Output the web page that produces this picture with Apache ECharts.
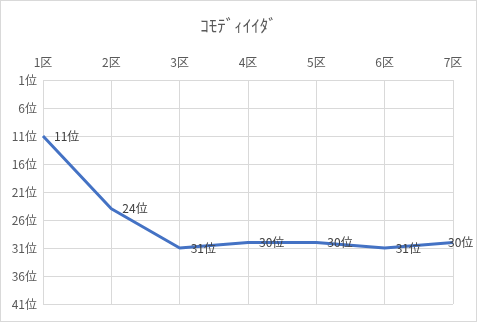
<!DOCTYPE html>
<html><head><meta charset="utf-8">
<script src="https://cdn.jsdelivr.net/npm/echarts@6/dist/echarts.min.js"></script>
<style>html,body{margin:0;padding:0;background:#fff}#c{width:477px;height:322px;box-sizing:border-box;border:1px solid #d9d9d9}</style>
</head><body><div id="c"></div>
<script>
var titleText = 'ｺﾓﾃﾞｨｲｲﾀﾞ';
var categories = ['1区','2区','3区','4区','5区','6区','7区'];
var ranks = [11, 24, 31, 30, 30, 31, 30];
var rankMin = 1, rankMax = 41, rankStep = 5;
var chart = echarts.init(document.getElementById('c'));
var font = '"Noto Sans CJK JP", "Noto Sans", sans-serif';
var seriesData = ranks.map(function(v, i){
  if (i === ranks.length - 1) return {value: v, label: {offset: [-16, 0]}};
  return v;
});
chart.setOption({
  animation: false,
  title: {text: titleText, left: 'center', top: 11, textStyle: {fontFamily: font, fontSize: 17, fontWeight: 'normal', color: '#595959'}},
  grid: {left: 42, right: 23, top: 79, bottom: 17},
  xAxis: {type: 'category', data: categories, position: 'top', boundaryGap: false,
    axisLine: {show: false}, axisTick: {show: false},
    axisLabel: {color: '#595959', fontSize: 12, fontFamily: font, margin: 12},
    splitLine: {show: true, lineStyle: {color: '#d9d9d9', width: 1}}},
  yAxis: {type: 'value', inverse: true, min: rankMin, max: rankMax, interval: rankStep,
    axisLine: {show: false}, axisTick: {show: false},
    axisLabel: {color: '#595959', fontSize: 12, fontFamily: font, margin: 6, formatter: function(v){return v + '位';}},
    splitLine: {show: true, lineStyle: {color: '#d9d9d9', width: 1}}},
  series: [{type: 'line', data: seriesData, symbol: 'circle', symbolSize: 2, showSymbol: true, showAllSymbol: true, smooth: false,
    itemStyle: {color: 'rgba(68,114,196,0)', borderWidth: 0},
    lineStyle: {color: '#4472C4', width: 3},
    label: {show: true, position: 'right', distance: 10, color: '#404040', fontSize: 12, fontFamily: font, formatter: function(p){return p.value + '位';}}}]
});
</script></body></html>
